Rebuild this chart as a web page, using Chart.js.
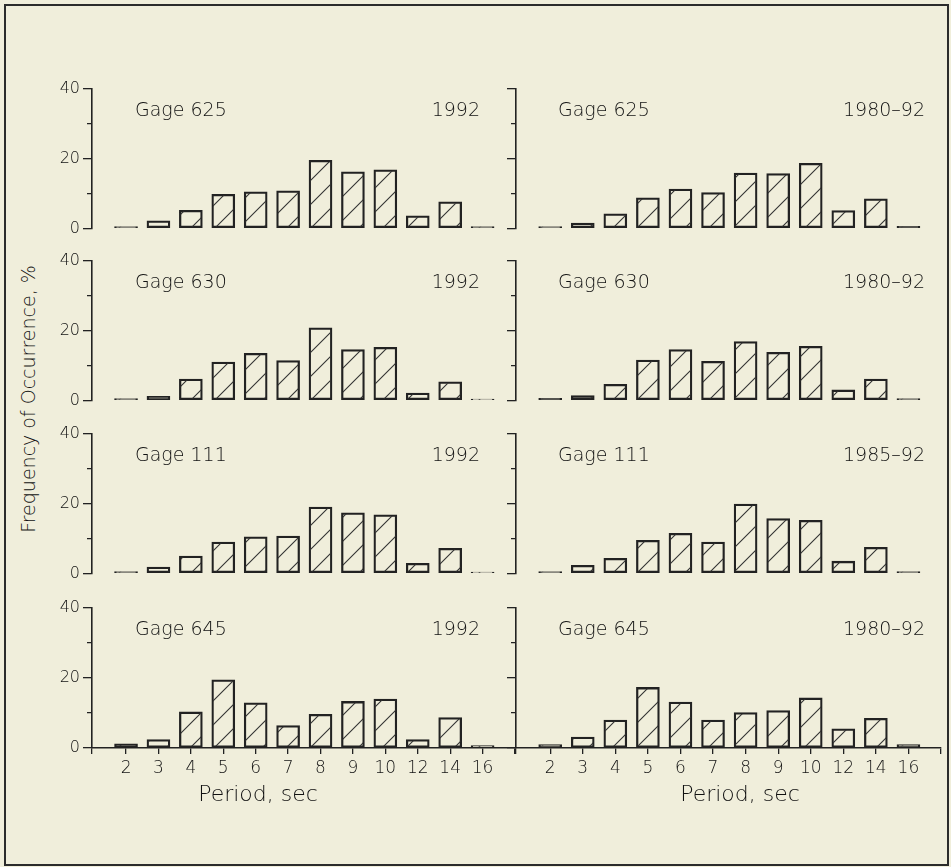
<!DOCTYPE html>
<html>
<head>
<meta charset="utf-8">
<script src="https://cdn.jsdelivr.net/npm/chart.js@4.4.1/dist/chart.umd.min.js"></script>
<style>
  body { margin: 0; background: #f0eedb; width: 951px; height: 867px; position: relative; overflow: hidden; font-family: 'DejaVu Sans', sans-serif; }
  #frame { position: absolute; left: 4px; top: 4px; width: 941px; height: 858px; border: 2px solid #2b2b2b; }
  #ytitle { position: absolute; left: 28px; top: 399px; transform: translate(-50%, -50%) rotate(-90deg); white-space: nowrap; font-size: 19px; font-weight: 300; color: #111; }
  canvas { position: absolute; }
</style>
</head>
<body>
<div id="frame"></div>
<div id="ytitle">Frequency of Occurrence, %</div>
<div id="panels"></div>
<script>
// 周期类别 (sec)
const periods = ['2', '3', '4', '5', '6', '7', '8', '9', '10', '12', '14', '16'];
const yTicks = [0, 10, 20, 30, 40];

// 各测站出现频率 (%)
const gage625_1992 = [0.5, 2.2, 5.2, 9.8, 10.5, 10.8, 19.5, 16.2, 16.8, 3.6, 7.6, 0.5];
const gage625_8092 = [0.5, 1.5, 4.2, 8.8, 11.3, 10.3, 15.9, 15.7, 18.7, 5.1, 8.5, 0.6];
const gage630_1992 = [0.5, 1.2, 6.1, 11.0, 13.5, 11.4, 20.8, 14.6, 15.2, 2.1, 5.3, 0.4];
const gage630_8092 = [0.6, 1.4, 4.6, 11.6, 14.6, 11.2, 16.9, 13.8, 15.5, 3.0, 6.1, 0.5];
const gage111_1992 = [0.5, 1.8, 5.0, 9.0, 10.5, 10.7, 19.0, 17.4, 16.8, 2.9, 7.2, 0.4];
const gage111_8592 = [0.5, 2.3, 4.3, 9.5, 11.5, 9.0, 19.9, 15.7, 15.2, 3.5, 7.5, 0.5];
const gage645_1992 = [1.2, 2.4, 10.3, 19.5, 12.9, 6.4, 9.6, 13.3, 14.0, 2.4, 8.7, 0.7];
const gage645_8092 = [1.0, 3.1, 8.0, 17.3, 13.1, 8.0, 10.1, 10.7, 14.3, 5.5, 8.5, 1.0];

const rows = [
  { gage: 'Gage 625', left: gage625_1992, right: gage625_8092, leftYears: '1992', rightYears: '1980–92' },
  { gage: 'Gage 630', left: gage630_1992, right: gage630_8092, leftYears: '1992', rightYears: '1980–92' },
  { gage: 'Gage 111', left: gage111_1992, right: gage111_8592, leftYears: '1992', rightYears: '1985–92' },
  { gage: 'Gage 645', left: gage645_1992, right: gage645_8092, leftYears: '1992', rightYears: '1980–92' }
];

const INK = '#222';
const TEXT = '#111';
const FONT = "'DejaVu Sans', sans-serif";
const X_MIN = -1.05;
const X_MAX = 12;
const zeroLines = [229, 401, 574, 748];

// 斜线填充
function makeHatch() {
  const size = 24;
  const c = document.createElement('canvas');
  c.width = c.height = size;
  const g = c.getContext('2d');
  g.strokeStyle = '#333';
  g.lineWidth = 1.1;
  g.beginPath();
  g.moveTo(-2, size + 2); g.lineTo(size + 2, -2);
  g.moveTo(-2, 2); g.lineTo(2, -2);
  g.moveTo(size - 2, size + 2); g.lineTo(size + 2, size - 2);
  g.stroke();
  return g.createPattern(c, 'repeat');
}
const hatch = makeHatch();

// 面板文字
const panelText = {
  id: 'panelText',
  afterDraw(chart, args, o) {
    const ctx = chart.ctx;
    const a = chart.chartArea;
    ctx.save();
    ctx.fillStyle = TEXT;
    ctx.textBaseline = 'middle';
    ctx.font = '300 19px ' + FONT;
    ctx.textAlign = 'left';
    ctx.fillText(o.gage, o.gageX, a.top + 22);
    ctx.textAlign = 'right';
    ctx.fillText(o.years, o.yearX, a.top + 22);
    if (o.xTitle) {
      ctx.font = '300 22px ' + FONT;
      ctx.textAlign = 'center';
      ctx.fillText(o.xTitle, o.xTitleX, a.bottom + 47);
    }
    ctx.restore();
  }
};

function makePanel(p) {
  const canvas = document.createElement('canvas');
  canvas.width = p.w;
  canvas.height = p.h;
  canvas.style.left = p.x + 'px';
  canvas.style.top = p.y + 'px';
  document.getElementById('panels').appendChild(canvas);

  return new Chart(canvas, {
    type: 'bar',
    data: {
      datasets: [{
        data: p.values.map((v, i) => ({ x: i, y: v })),
        backgroundColor: hatch,
        borderColor: INK,
        borderWidth: 1.6,
        borderSkipped: false,
        barThickness: 23
      }]
    },
    options: {
      responsive: false,
      animation: false,
      events: [],
      layout: { padding: { left: p.padL, right: p.padR, top: 30, bottom: p.bottom ? 4 : 12 } },
      plugins: {
        legend: { display: false },
        tooltip: { enabled: false },
        panelText: { gage: p.gage, gageX: p.gageX, years: p.years, yearX: p.yearX, xTitle: p.bottom ? 'Period, sec' : '', xTitleX: p.xTitleX }
      },
      scales: {
        x: {
          type: 'linear',
          min: X_MIN,
          max: X_MAX,
          offset: false,
          display: p.bottom,
          afterBuildTicks: axis => {
            axis.ticks = [X_MIN, ...periods.map((_, i) => i), X_MAX].map(v => ({ value: v }));
          },
          afterFit: s => { if (p.bottom) s.height = 62; },
          grid: { drawOnChartArea: false, offset: false, tickLength: 6, color: INK, lineWidth: 1.3 },
          border: { display: true, color: INK, width: 1.6 },
          ticks: {
            autoSkip: false,
            maxRotation: 0,
            padding: 4,
            color: TEXT,
            font: { size: 17, family: FONT, weight: '300' },
            callback: v => (Number.isInteger(v) && v >= 0 && v < periods.length) ? periods[v] : ''
          }
        },
        y: {
          min: 0,
          max: 40,
          afterBuildTicks: axis => { axis.ticks = yTicks.map(v => ({ value: v })); },
          afterFit: s => { s.width = p.yw; },
          grid: {
            drawOnChartArea: false,
            tickLength: 9,
            color: INK,
            lineWidth: 1.3,
            tickBorderDash: c => (c.tick && c.tick.value % 20) ? [0, 4, 6, 40] : []
          },
          border: { display: true, color: INK, width: 1.6 },
          ticks: {
            padding: 3,
            color: TEXT,
            font: { size: 16, family: FONT, weight: '300' },
            callback: v => (p.labels && v % 20 === 0) ? v : ''
          }
        }
      }
    },
    plugins: [panelText]
  });
}

rows.forEach((r, i) => {
  const bottom = i === rows.length - 1;
  const top = zeroLines[i] - 170;
  const h = bottom ? 236 : 182;
  makePanel({
    x: 0, y: top, w: 520, h: h, padL: 42, padR: 5, yw: 50, labels: true, bottom: bottom,
    values: r.left, gage: r.gage, gageX: 135, years: r.leftYears, yearX: 480, xTitleX: 258
  });
  makePanel({
    x: 470, y: top, w: 480, h: h, padL: 26, padR: 9, yw: 20, labels: false, bottom: bottom,
    values: r.right, gage: r.gage, gageX: 88, years: r.rightYears, yearX: 455, xTitleX: 270
  });
});
</script>
</body>
</html>
